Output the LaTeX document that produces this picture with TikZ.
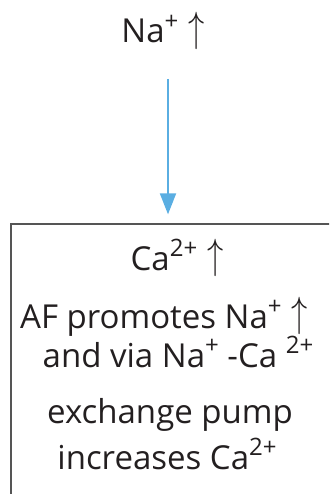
\documentclass[tikz,border=0pt]{standalone}
\usepackage{graphicx}
\usepackage{fontspec}
\setmainfont{Open Sans}
\usetikzlibrary{arrows.meta}
\definecolor{inkgray}{HTML}{231F20}
\definecolor{framegray}{HTML}{555555}
\definecolor{flowblue}{HTML}{5AAEE2}
\newcommand{\ionsup}[1]{\raisebox{0.4em}{\fontsize{24}{24}\selectfont #1}}
\newcommand{\upar}{\raisebox{0.05em}{\scalebox{1.3}[1.7]{$\uparrow$}}}
\begin{document}
\begin{tikzpicture}[x=1pt,y=-1pt]
    % Stili
    \tikzstyle{label}=[anchor=base, text=inkgray, inner sep=0pt, font=\fontsize{33}{40}\selectfont]
    \tikzstyle{panel}=[rectangle, draw=framegray, line width=1.3pt, minimum width=332pt, minimum height=300pt, inner sep=0pt]
    \tikzstyle{flow}=[-{Triangle[length=21pt,width=16pt]}, line width=2pt, flowblue]

    % Area visibile
    \useasboundingbox (0,0) rectangle (329,494);
    \clip (0,0) rectangle (329,494);

    % Causa in alto
    \node[label] (na) at (163,43) {Na\ionsup{+}\hspace{10pt}\upar};

    % Riquadro (tagliato a destra e in basso)
    \node[panel] (box) at (177,374) {};

    % Testo nel riquadro
    \node[label] (ca) at (177,270) {Ca\ionsup{2+}\hspace{10pt}\upar};
    \node[label] (af) at (164,328) {AF promotes Na\ionsup{+}\hspace{10pt}\upar};
    \node[label] (via) at (178,367) {and via Na\ionsup{+} -Ca \ionsup{2+}};
    \node[label] (pump) at (170,423) {exchange pump};
    \node[label] (incr) at (167,469) {increases Ca\ionsup{2+}};

    % Freccia
    \coordinate (start) at (168,79);
    \draw[flow] (start) -- (start |- box.north) [shorten >=9pt];
\end{tikzpicture}
\end{document}
